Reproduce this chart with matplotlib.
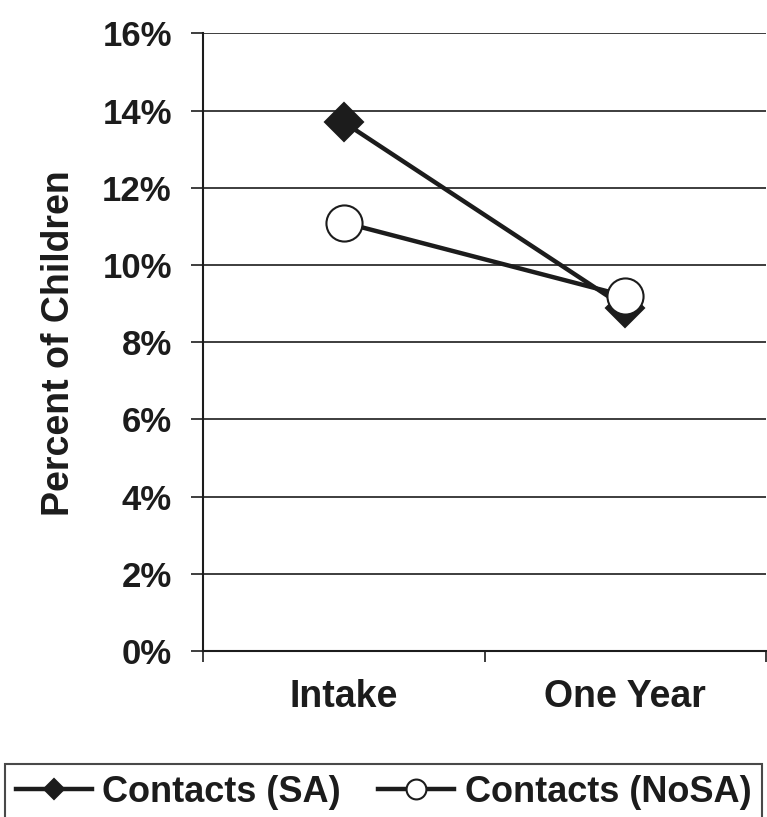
import numpy as np
import matplotlib
matplotlib.use('Agg')
import matplotlib.pyplot as plt

# percent of children with contacts, at intake and after one year
categories = ['Intake', 'One Year']
contacts_sa = [13.7, 8.9]
contacts_nosa = [11.1, 9.2]
yticks = [0, 2, 4, 6, 8, 10, 12, 14, 16]
ytick_labels = ['0%', '2%', '4%', '6%', '8%', '10%', '12%', '14%', '16%']

plt.rcParams['font.family'] = ['Liberation Sans', 'DejaVu Sans']
plt.rcParams['font.weight'] = 'bold'
ink = '#1c1c1c'

fig = plt.figure(figsize=(7.67, 8.17), dpi=100)
ax = fig.add_axes([0.2647, 0.2032, 0.734, 0.7558])

x = np.arange(len(categories)) + 0.5
ax.plot(x, contacts_sa, color=ink, lw=3.2, marker='D', ms=19,
        mfc=ink, mec=ink, mew=1.5, label='Contacts (SA)', zorder=3)
ax.plot(x, contacts_nosa, color=ink, lw=3.2, marker='o', ms=26,
        mfc='white', mec=ink, mew=1.5, label='Contacts (NoSA)', zorder=4)

ax.set_xlim(0, 2)
ax.set_ylim(0, 16)

# y axis
ax.set_yticks(yticks)
ax.set_yticklabels(ytick_labels, fontsize=25, fontweight='bold', color=ink)
ax.tick_params(axis='y', direction='out', length=8.5, width=1.2, pad=14, color=ink)
ax.yaxis.grid(True, color=ink, lw=1.2)
ax.set_axisbelow(True)

# x axis: boundary ticks, labels centred between them
ax.set_xticks([0, 1, 2])
ax.set_xticklabels([])
ax.set_xticks(x, minor=True)
ax.set_xticklabels(categories, minor=True, fontsize=27, fontweight='bold', color=ink)
ax.tick_params(axis='x', which='major', direction='out', length=8, width=1.2, color=ink)
ax.tick_params(axis='x', which='minor', length=0, pad=20)

for side in ['top', 'right']:
    ax.spines[side].set_visible(False)
ax.spines['left'].set_linewidth(1.5)
ax.spines['bottom'].set_linewidth(1.5)
ax.spines['left'].set_color(ink)
ax.spines['bottom'].set_color(ink)

ax.set_ylabel('Percent of Children', fontsize=27, fontweight='bold', color=ink)
ax.yaxis.set_label_coords(-0.256, 0.498)
ax.yaxis.label.set_va('center')

leg = fig.legend(loc='upper left', bbox_to_anchor=(0.0065, 0.0, 0.987, 1 - 764 / 817),
                 mode='expand', ncol=2, frameon=True, fancybox=False,
                 fontsize=26, markerscale=0.55, handlelength=2.1,
                 handletextpad=0.3, columnspacing=0.7, borderaxespad=0,
                 borderpad=0.3)
leg.get_frame().set_edgecolor(ink)
leg.get_frame().set_linewidth(1.5)
for t in leg.get_texts():
    t.set_color(ink)

fig.savefig('out.png', dpi=100)
